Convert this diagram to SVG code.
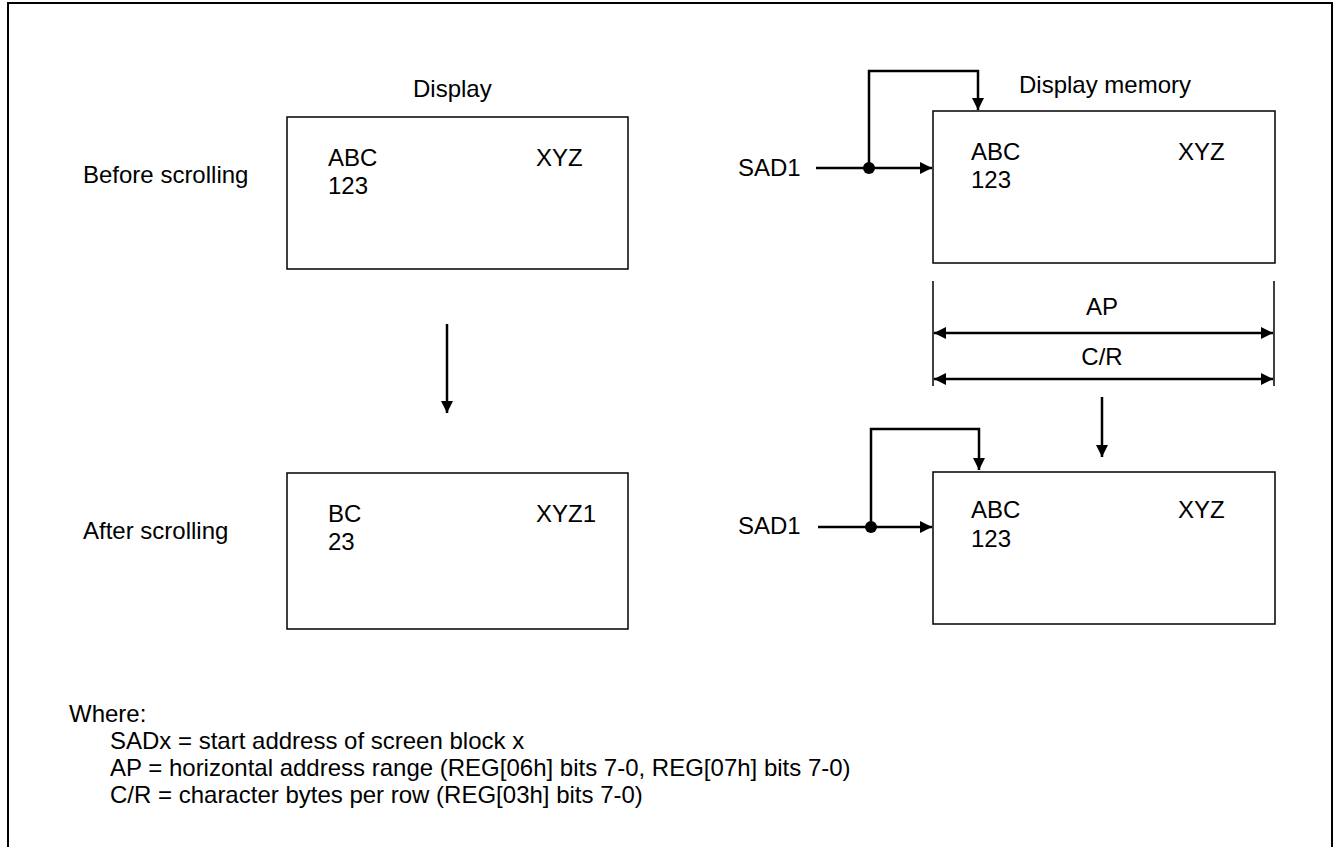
<svg xmlns="http://www.w3.org/2000/svg" width="1337" height="847" viewBox="0 0 1337 847">
<style>
text{font-family:"Liberation Sans",Arial,sans-serif;font-size:24px;fill:#000}
.box{fill:#fff;stroke:#000;stroke-width:1.5}
.ln{fill:none;stroke:#000;stroke-width:2.5}
.thin{fill:none;stroke:#000;stroke-width:1.5}
.mid{text-anchor:middle}
</style>
<defs>
<marker id="ah" markerWidth="12" markerHeight="12" viewBox="0 0 12 12" refX="12" refY="6" orient="auto-start-reverse" markerUnits="userSpaceOnUse">
<path d="M0,0 L12,6 L0,12 Z" fill="#000"/>
</marker>
</defs>
<rect width="1337" height="847" fill="#fff"/>
<path d="M8,900 V3 H1332 V900" fill="none" stroke="#000" stroke-width="2"/>
<g id="labels">
<text x="413" y="97">Display</text>
<text x="1019" y="93">Display memory</text>
<text x="83" y="183">Before scrolling</text>
<text x="83" y="539">After scrolling</text>
</g>
<g id="display-before">
<rect class="box" x="287" y="117" width="341" height="152"/>
<text x="328" y="166">ABC</text>
<text x="328" y="194">123</text>
<text x="536" y="166">XYZ</text>
</g>
<g id="display-after">
<rect class="box" x="287" y="473" width="341" height="156"/>
<text x="328" y="522">BC</text>
<text x="328" y="550">23</text>
<text x="536" y="522">XYZ1</text>
</g>
<g id="memory-before">
<rect class="box" x="933" y="111" width="342" height="152"/>
<text x="971" y="160">ABC</text>
<text x="971" y="188">123</text>
<text x="1178" y="160">XYZ</text>
</g>
<g id="memory-after">
<rect class="box" x="933" y="472" width="342" height="152"/>
<text x="971" y="518">ABC</text>
<text x="971" y="547">123</text>
<text x="1178" y="518">XYZ</text>
</g>
<g id="sad1-top">
<text x="738" y="176">SAD1</text>
</g>
<g id="sad1-bottom">
<text x="738" y="534">SAD1</text>
</g>
<g id="range">
<text class="mid" x="1102" y="315">AP</text>
<text class="mid" x="1102" y="365">C/R</text>
</g>
<g id="connectors">
<line class="ln" x1="816" y1="168" x2="932" y2="168" marker-end="url(#ah)"/>
<path class="ln" d="M869,168 V71 H978 V110" marker-end="url(#ah)"/>
<circle cx="869" cy="168" r="6" fill="#000"/>
<line class="ln" x1="818" y1="527" x2="932" y2="527" marker-end="url(#ah)"/>
<path class="ln" d="M871,527 V429 H979 V470" marker-end="url(#ah)"/>
<circle cx="871" cy="527" r="6" fill="#000"/>
<line class="ln" x1="447" y1="324" x2="447" y2="413" marker-end="url(#ah)"/>
<line class="ln" x1="1102" y1="397" x2="1102" y2="457" marker-end="url(#ah)"/>
<line class="thin" x1="933" y1="281" x2="933" y2="386"/>
<line class="thin" x1="1274" y1="281" x2="1274" y2="386"/>
<line class="ln" x1="934" y1="333" x2="1273" y2="333" marker-start="url(#ah)" marker-end="url(#ah)"/>
<line class="ln" x1="934" y1="379" x2="1273" y2="379" marker-start="url(#ah)" marker-end="url(#ah)"/>
</g>
<g id="legend">
<text x="69" y="722">Where:</text>
<text x="110" y="749">SADx = start address of screen block x</text>
<text x="110" y="776">AP = horizontal address range (REG[06h] bits 7-0, REG[07h] bits 7-0)</text>
<text x="110" y="803">C/R = character bytes per row (REG[03h] bits 7-0)</text>
</g>
</svg>
